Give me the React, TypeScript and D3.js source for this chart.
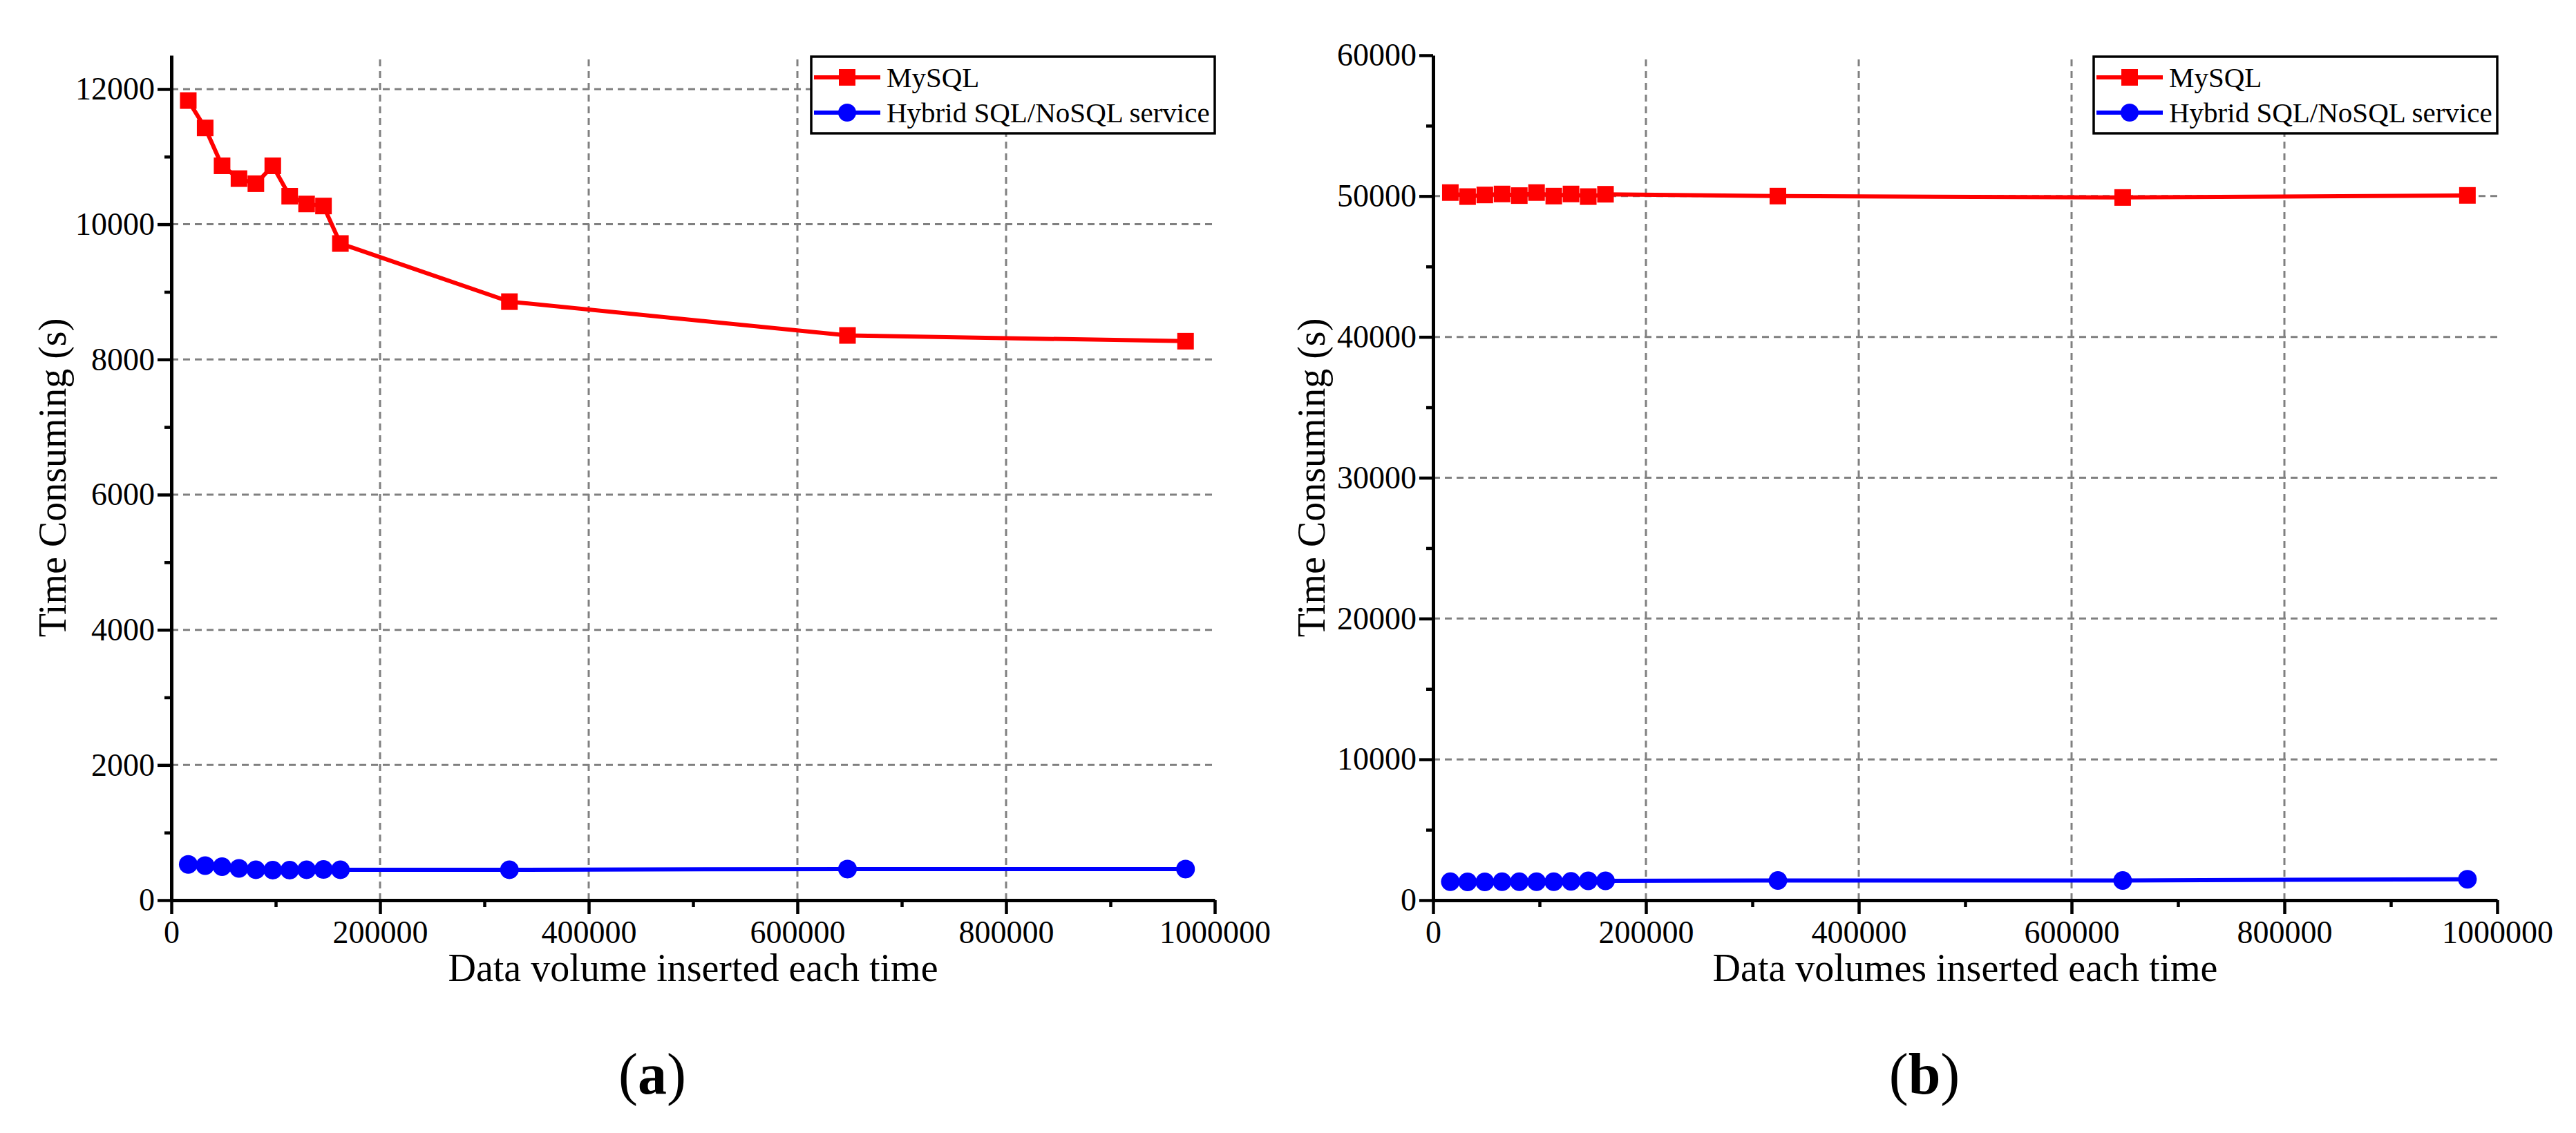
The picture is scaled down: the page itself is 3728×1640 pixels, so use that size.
import React, { useRef, useEffect } from 'react'
import * as d3 from 'd3'

// data volume inserted each time (shared by both panels)
const volumes = [16200, 32400, 48600, 64800, 81000, 97200, 113400, 129600, 145800, 162000, 324000, 648000, 972000]

// panel (a)
const mysqlA = [11830, 11425, 10865, 10675, 10600, 10865, 10415, 10300, 10270, 9715, 8855, 8355, 8270]
const hybridA = [530, 512, 495, 471, 450, 444, 444, 450, 454, 450, 450, 461, 461]

// panel (b)
const mysqlB = [50250, 49965, 50080, 50150, 50035, 50250, 50000, 50150, 49965, 50130, 50000, 49900, 50050]
const hybridB = [1310, 1300, 1300, 1310, 1310, 1310, 1310, 1340, 1370, 1370, 1400, 1400, 1490]

const seriesNames = ['MySQL', 'Hybrid SQL/NoSQL service']
const xTicks = [0, 200000, 400000, 600000, 800000, 1000000]
const xMinor = [100000, 300000, 500000, 700000, 900000]
const yTicksA = [0, 2000, 4000, 6000, 8000, 10000, 12000]
const yMinorA = [1000, 3000, 5000, 7000, 9000, 11000]
const yTicksB = [0, 10000, 20000, 30000, 40000, 50000, 60000]
const yMinorB = [5000, 15000, 25000, 35000, 45000, 55000]

const W = 3728
const H = 1640
const FONT = '"Liberation Serif", "Times New Roman", serif'
const RED = '#ff0000'
const BLUE = '#0000ff'
const GRID = '#808080'

interface PanelOpts {
  left: number
  right: number
  yMax: number
  yTicks: number[]
  yMinor: number[]
  red: number[]
  blue: number[]
  xTitle: string
  yTitleX: number
  tag: string
  tagX: number
}

const TOP = 80
const BOTTOM = 1303

function drawPanel(svg: d3.Selection<SVGSVGElement, unknown, null, undefined>, o: PanelOpts) {
  const x = d3.scaleLinear().domain([0, 1000000]).range([o.left, o.right])
  const y = d3.scaleLinear().domain([0, o.yMax]).range([BOTTOM, TOP])
  const g = svg.append('g')

  // grid
  g.append('g')
    .selectAll('line')
    .data(o.yTicks.filter((t) => t > 0 && t < o.yMax))
    .join('line')
    .attr('x1', o.left)
    .attr('x2', o.right)
    .attr('y1', (d) => y(d))
    .attr('y2', (d) => y(d))
    .attr('stroke', GRID)
    .attr('stroke-width', 3)
    .attr('stroke-dasharray', '10,7')
  g.append('g')
    .selectAll('line')
    .data(xTicks.filter((t) => t > 0 && t < 1000000))
    .join('line')
    .attr('x1', (d) => x(d))
    .attr('x2', (d) => x(d))
    .attr('y1', BOTTOM)
    .attr('y2', TOP)
    .attr('stroke', GRID)
    .attr('stroke-width', 3)
    .attr('stroke-dasharray', '10,7')

  // lines and markers
  const pts = (vals: number[]) => vals.map((v, i) => [volumes[i], v] as [number, number])
  const line = d3
    .line<[number, number]>()
    .x((d) => x(d[0]))
    .y((d) => y(d[1]))

  g.append('path').attr('d', line(pts(o.blue))).attr('fill', 'none').attr('stroke', BLUE).attr('stroke-width', 6)
  g.append('path').attr('d', line(pts(o.red))).attr('fill', 'none').attr('stroke', RED).attr('stroke-width', 6)

  g.append('g')
    .selectAll('circle')
    .data(pts(o.blue))
    .join('circle')
    .attr('cx', (d) => x(d[0]))
    .attr('cy', (d) => y(d[1]))
    .attr('r', 13.5)
    .attr('fill', BLUE)
  g.append('g')
    .selectAll('rect')
    .data(pts(o.red))
    .join('rect')
    .attr('x', (d) => x(d[0]) - 12)
    .attr('y', (d) => y(d[1]) - 12)
    .attr('width', 24)
    .attr('height', 24)
    .attr('fill', RED)

  // axes
  const styleAxis = (sel: d3.Selection<SVGGElement, unknown, null, undefined>) => {
    sel.select('.domain').attr('stroke', '#000').attr('stroke-width', 5)
    sel.selectAll('.tick line').attr('stroke', '#000').attr('stroke-width', 4.5)
    sel.selectAll('.tick text').attr('fill', '#000').style('font-family', FONT).style('font-size', '46px')
  }

  g.append('g')
    .attr('transform', `translate(0,${BOTTOM})`)
    .call(d3.axisBottom(x).tickValues(xMinor).tickSize(10).tickFormat(() => ''))
    .call((s) => s.select('.domain').remove())
    .call(styleAxis)
  g.append('g')
    .attr('transform', `translate(${o.left},0)`)
    .call(d3.axisLeft(y).tickValues(o.yMinor).tickSize(10).tickFormat(() => ''))
    .call((s) => s.select('.domain').remove())
    .call(styleAxis)

  g.append('g')
    .attr('transform', `translate(0,${BOTTOM})`)
    .call(d3.axisBottom(x).tickValues(xTicks).tickSize(20).tickSizeOuter(0).tickPadding(9).tickFormat(d3.format('d')))
    .call(styleAxis)
  g.append('g')
    .attr('transform', `translate(${o.left},0)`)
    .call(d3.axisLeft(y).tickValues(o.yTicks).tickSize(20).tickSizeOuter(0).tickPadding(4).tickFormat(d3.format('d')))
    .call(styleAxis)

  // legend
  const lx = o.right - 584
  const lg = g.append('g').attr('transform', `translate(${lx},${TOP + 2})`)
  lg.append('rect').attr('width', 584).attr('height', 111).attr('fill', '#fff').attr('stroke', '#000').attr('stroke-width', 3.5)
  seriesNames.forEach((name, i) => {
    const ly = 30 + i * 51
    const color = i === 0 ? RED : BLUE
    lg.append('line').attr('x1', 4).attr('x2', 100).attr('y1', ly).attr('y2', ly).attr('stroke', color).attr('stroke-width', 6)
    if (i === 0) {
      lg.append('rect').attr('x', 40).attr('y', ly - 12).attr('width', 24).attr('height', 24).attr('fill', color)
    } else {
      lg.append('circle').attr('cx', 52).attr('cy', ly).attr('r', 13).attr('fill', color)
    }
    lg.append('text')
      .attr('x', 109)
      .attr('y', ly + 14)
      .style('font-family', FONT)
      .style('font-size', '41px')
      .text(name)
  })

  // titles
  g.append('text')
    .attr('x', (o.left + o.right) / 2)
    .attr('y', 1420)
    .attr('text-anchor', 'middle')
    .style('font-family', FONT)
    .style('font-size', '56px')
    .text(o.xTitle)
  g.append('text')
    .attr('transform', `translate(${o.yTitleX},${(TOP + BOTTOM) / 2}) rotate(-90)`)
    .attr('text-anchor', 'middle')
    .style('font-family', FONT)
    .style('font-size', '56px')
    .text('Time Consuming (s)')

  const tag = g
    .append('text')
    .attr('x', o.tagX)
    .attr('y', 1583)
    .attr('text-anchor', 'middle')
    .style('font-family', FONT)
    .style('font-size', '84px')
  tag.append('tspan').text('(')
  tag.append('tspan').attr('font-weight', 'bold').text(o.tag)
  tag.append('tspan').text(')')
}

const App: React.FC = () => {
  const svgRef = useRef<SVGSVGElement | null>(null)

  useEffect(() => {
    document.body.style.margin = '0'
    const svg = d3.select(svgRef.current as SVGSVGElement)
    svg.selectAll('*').remove()

    drawPanel(svg, {
      left: 248,
      right: 1758,
      yMax: 12500,
      yTicks: yTicksA,
      yMinor: yMinorA,
      red: mysqlA,
      blue: hybridA,
      xTitle: 'Data volume inserted each time',
      yTitleX: 95,
      tag: 'a',
      tagX: 944,
    })
    drawPanel(svg, {
      left: 2074,
      right: 3614,
      yMax: 60000,
      yTicks: yTicksB,
      yMinor: yMinorB,
      red: mysqlB,
      blue: hybridB,
      xTitle: 'Data volumes inserted each time',
      yTitleX: 1917,
      tag: 'b',
      tagX: 2785,
    })
  }, [])

  return <svg ref={svgRef} width={W} height={H} style={{ display: 'block', background: '#fff' }}></svg>
}

export default App
